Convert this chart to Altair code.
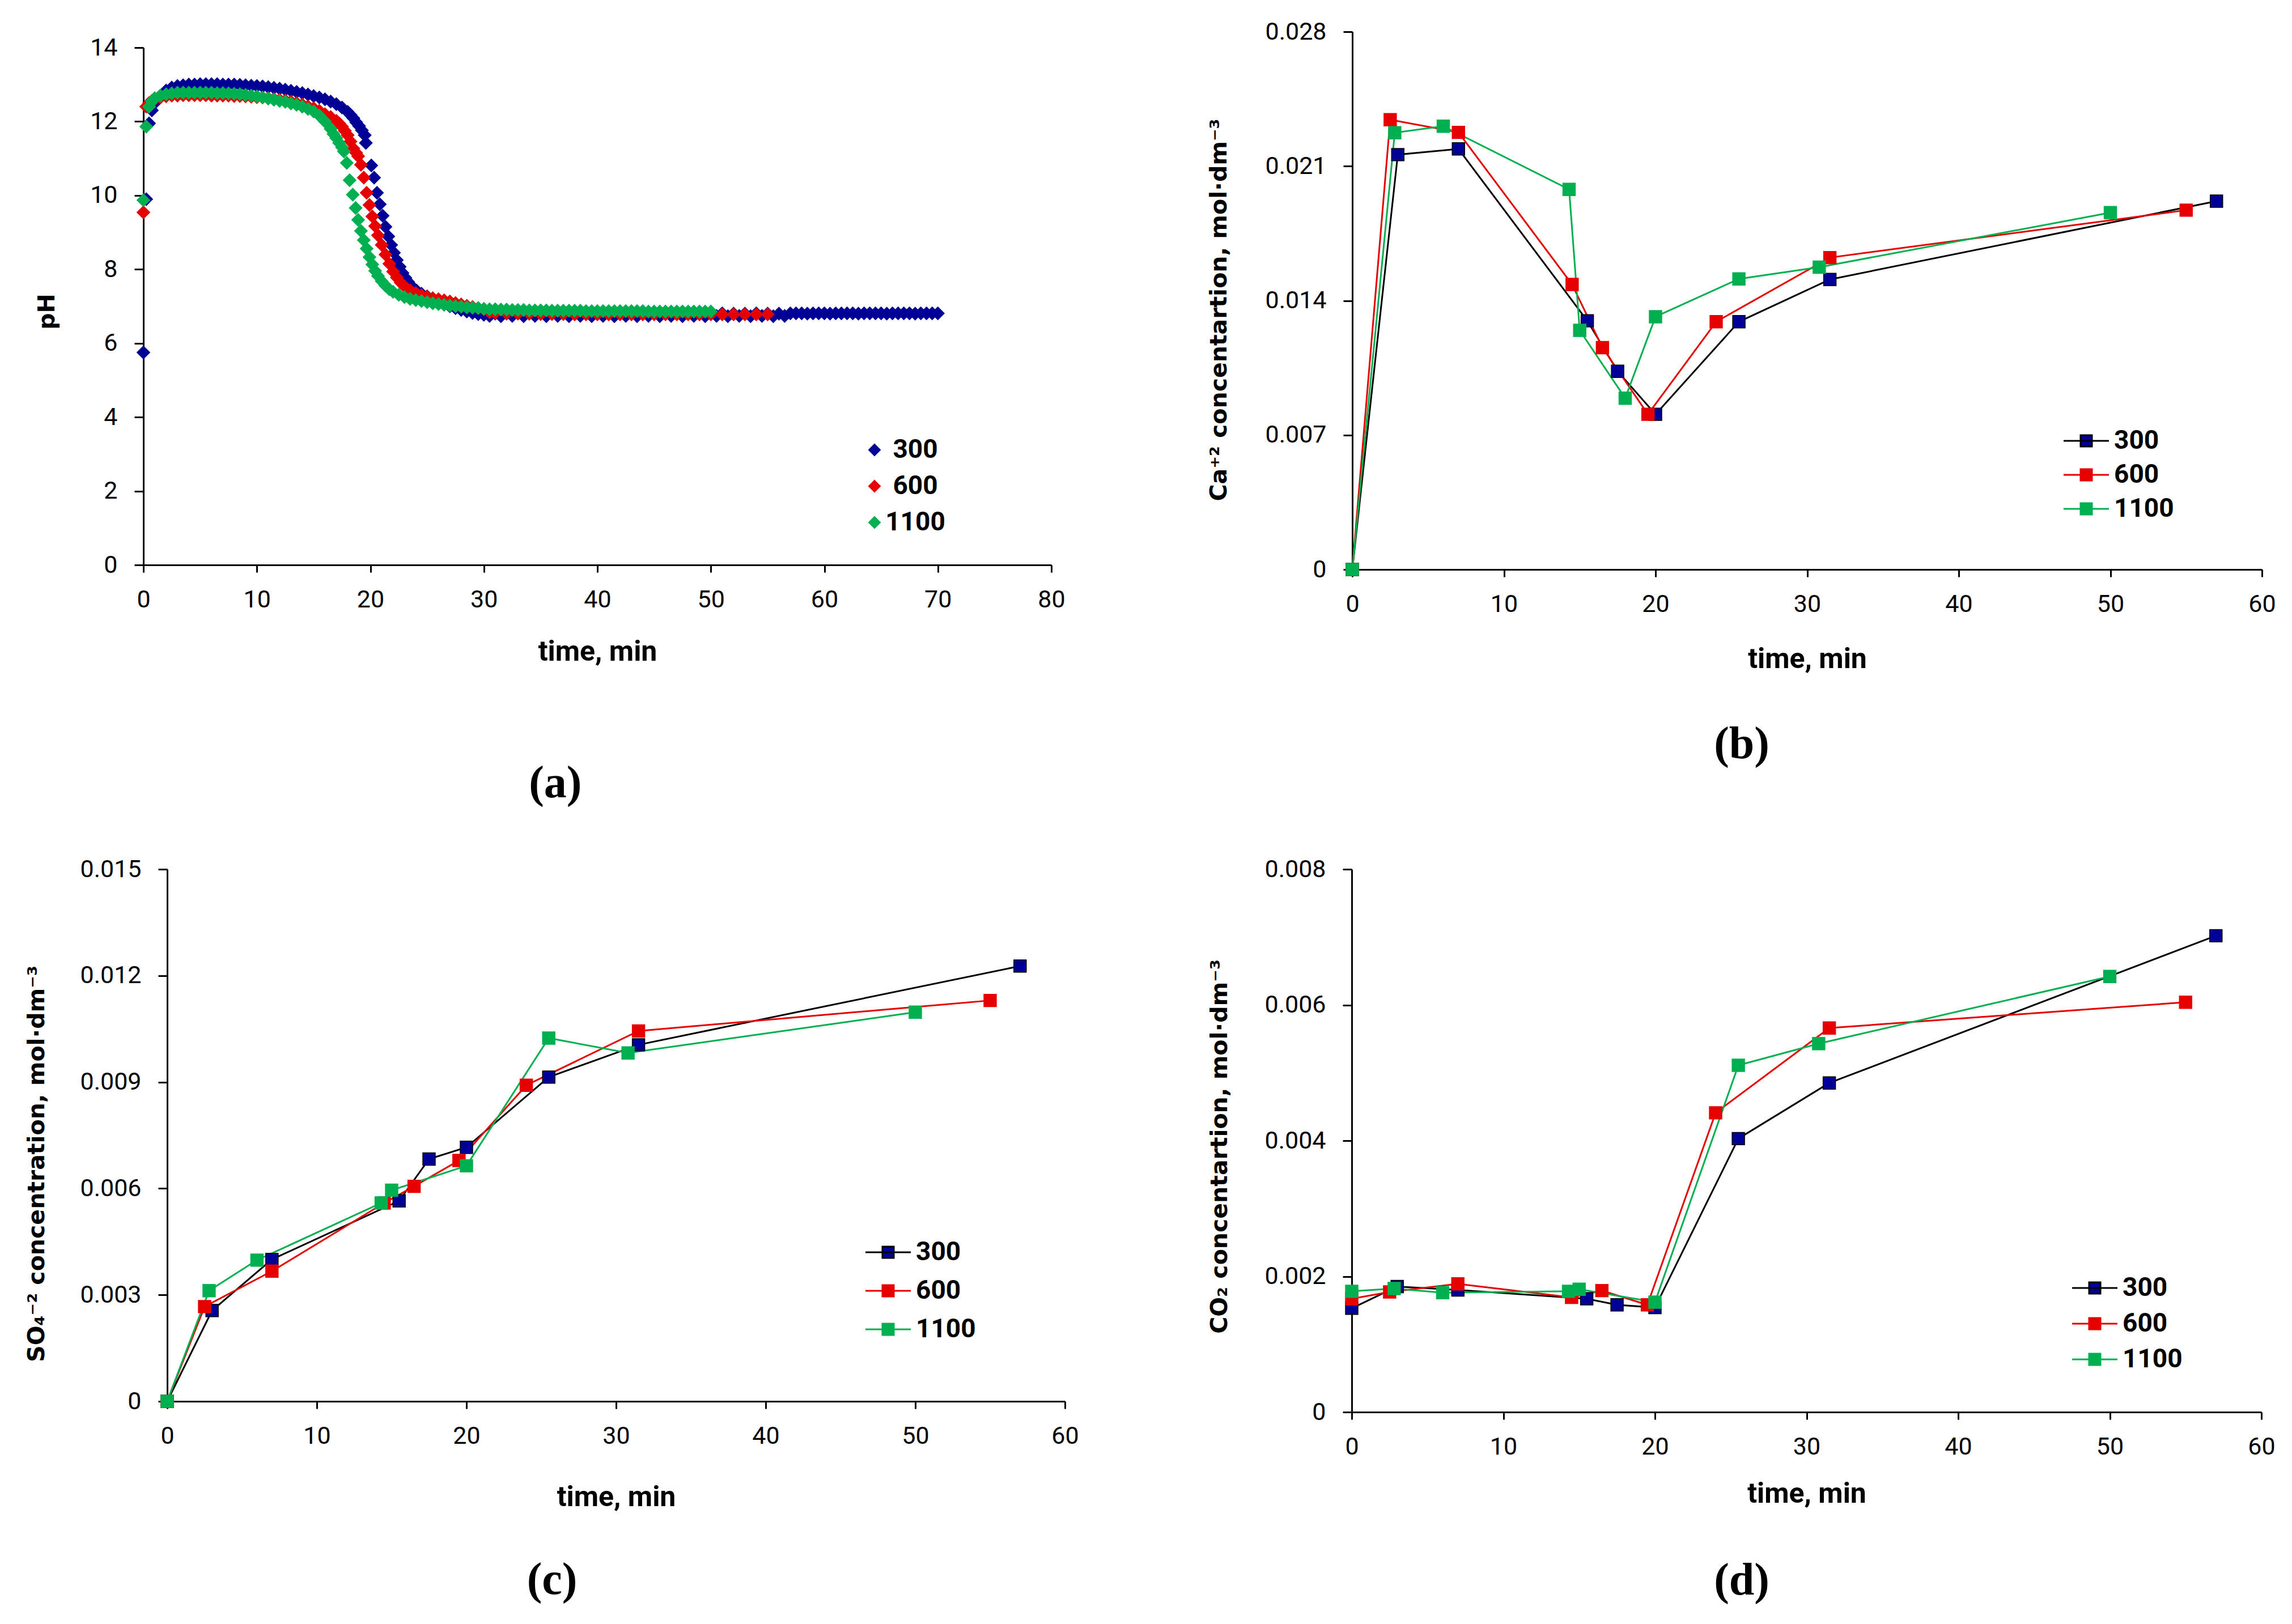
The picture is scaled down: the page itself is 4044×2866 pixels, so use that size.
import altair as alt
import pandas as pd

SERIES = ["300", "600", "1100"]
MARKER_COLORS = ["#000096", "#E60000", "#00B050"]
LINE_COLORS = ["#000000", "#E60000", "#00B050"]

# ---------------- panel (a): pH ----------------
ph300_t1 = [0, 0.25, 0.5, 0.75, 1, 1.5, 2, 2.5, 3, 3.5, 4, 4.5, 5, 5.5, 6, 6.5, 7, 7.5, 8, 8.5,
            9, 9.5, 10, 10.5, 11, 11.5, 12, 12.5, 13, 13.5, 14, 14.5, 15, 15.5, 16, 16.5, 17, 17.5, 18]
ph300_v1 = [5.75, 9.90, 11.95, 12.30, 12.50, 12.70, 12.84, 12.92, 12.96, 12.98, 13.00, 13.00, 13.01, 13.01,
            13.01, 13.01, 13.00, 13.00, 13.00, 12.99, 12.98, 12.97, 12.96, 12.95, 12.93, 12.91, 12.89, 12.86,
            12.83, 12.80, 12.77, 12.73, 12.69, 12.65, 12.60, 12.54, 12.47, 12.38, 12.26]
ph300_t2 = [18.25, 18.5, 18.75, 19, 19.25, 19.5, 19.6, 20.08, 20.33, 20.58, 20.83, 21.08, 21.33, 21.58,
            21.83, 22.08, 22.33, 22.58, 22.83, 23.08, 23.33, 23.58, 23.83, 24.08, 24.5, 25, 25.5, 26, 26.5,
            27, 27.5, 28, 28.5, 29, 29.5, 30]
ph300_v2 = [12.18, 12.09, 11.98, 11.88, 11.76, 11.63, 11.42, 10.81, 10.48, 10.07, 9.76, 9.45, 9.15, 8.89,
            8.66, 8.45, 8.25, 8.07, 7.90, 7.77, 7.66, 7.56, 7.48, 7.42, 7.34, 7.27, 7.21, 7.14, 7.07, 7.00,
            6.95, 6.90, 6.86, 6.82, 6.79, 6.77]
ph300_t3 = [30.5, 31, 31.5, 32, 32.5, 33, 33.5, 34, 34.5, 35, 35.5, 36, 36.5, 37, 37.5, 38, 38.5, 39, 39.5, 40,
            40.5, 41, 41.5, 42, 42.5, 43, 43.5, 44, 44.5, 45, 45.5, 46, 46.5, 47, 47.5, 48, 48.5, 49, 49.5, 50,
            50.5, 51, 51.5, 52, 52.5, 53, 53.5, 54, 54.5, 55, 55.5, 56, 56.5, 57, 57.5, 58, 58.5, 59, 59.5, 60,
            60.5, 61, 61.5, 62, 62.5, 63, 63.5, 64, 64.5, 65, 65.5, 66, 66.5, 67, 67.5, 68, 68.5, 69, 69.5, 70]
ph300_v3 = [6.74, 6.80, 6.73, 6.80, 6.74, 6.81, 6.73, 6.80, 6.74, 6.80,
            6.73, 6.81, 6.74, 6.80, 6.73, 6.80, 6.74, 6.81, 6.73, 6.80,
            6.74, 6.80, 6.73, 6.81, 6.74, 6.80, 6.73, 6.80, 6.74, 6.81,
            6.73, 6.80, 6.74, 6.80, 6.73, 6.81, 6.74, 6.80, 6.73, 6.80,
            6.74, 6.81, 6.73, 6.80, 6.74, 6.80, 6.73, 6.81, 6.74, 6.80,
            6.73, 6.80, 6.74, 6.81,
            6.81, 6.81, 6.80, 6.81, 6.81, 6.81, 6.80, 6.81, 6.81, 6.81, 6.81, 6.80, 6.81,
            6.81, 6.81, 6.81, 6.80, 6.81, 6.81, 6.81, 6.81, 6.80, 6.81, 6.81, 6.81, 6.81]

ph600_t1 = [0, 0.25, 0.5, 0.75, 1, 1.5, 2, 2.5, 3, 3.5, 4, 4.5, 5, 5.5, 6, 6.5, 7, 7.5, 8, 8.5,
            9, 9.5, 10, 10.5, 11, 11.5, 12, 12.5, 13, 13.5, 14, 14.5, 15, 15.5, 16, 16.5, 17]
ph600_v1 = [9.54, 12.40, 12.50, 12.56, 12.60, 12.65, 12.68, 12.70, 12.70, 12.71, 12.71, 12.71, 12.71, 12.71,
            12.70, 12.70, 12.70, 12.70, 12.69, 12.69, 12.68, 12.67, 12.66, 12.65, 12.63, 12.61, 12.59, 12.57,
            12.54, 12.50, 12.46, 12.41, 12.36, 12.29, 12.20, 12.12, 12.02]
ph600_t2 = [17.25, 17.5, 17.75, 18, 18.25, 18.5, 18.75, 18.92, 19.17, 19.42, 19.67, 19.92, 20.17, 20.42,
            20.67, 21.0, 21.33, 21.67, 22.0, 22.33, 22.67, 23.0, 23.5, 24, 24.5, 25, 25.5, 26, 26.5, 27,
            27.5, 28, 28.5, 29, 29.5, 30, 30.5]
ph600_v2 = [11.95, 11.86, 11.75, 11.63, 11.46, 11.27, 11.15, 11.06, 10.83, 10.48, 10.07, 9.74, 9.43, 9.17,
            8.92, 8.66, 8.40, 8.15, 7.94, 7.78, 7.64, 7.54, 7.43, 7.36, 7.30, 7.26, 7.22, 7.19, 7.16, 7.13,
            7.09, 7.05, 7.01, 6.98, 6.95, 6.92, 6.84]
ph600_t3 = [31, 32, 33, 34, 35, 36, 37, 38, 39, 40, 41, 42, 43, 44, 45, 46, 47, 48, 49, 50, 51, 52, 53, 54, 55]
ph600_v3 = [6.82, 6.81, 6.80, 6.80, 6.79, 6.79, 6.79, 6.78, 6.78, 6.78, 6.78, 6.78, 6.78, 6.78, 6.78,
            6.78, 6.78, 6.78, 6.78, 6.78, 6.78, 6.78, 6.78, 6.78, 6.78]

ph1100_t1 = [0, 0.25, 0.5, 0.75, 1, 1.5, 2, 2.5, 3, 3.5, 4, 4.5, 5, 5.5, 6, 6.5, 7, 7.5, 8, 8.5,
             9, 9.5, 10, 10.5, 11, 11.5, 12, 12.5, 13, 13.5, 14, 14.5, 15, 15.5, 16, 16.5]
ph1100_v1 = [9.87, 11.86, 12.40, 12.55, 12.63, 12.70, 12.74, 12.76, 12.78, 12.78, 12.78, 12.78, 12.78, 12.78,
             12.78, 12.77, 12.77, 12.76, 12.75, 12.74, 12.72, 12.70, 12.68, 12.65, 12.62, 12.59, 12.56, 12.53,
             12.49, 12.45, 12.40, 12.34, 12.27, 12.16, 12.00, 11.80]
ph1100_t2 = [16.75, 17, 17.25, 17.5, 17.67, 17.92, 18.17, 18.45, 18.7, 18.92, 19.17, 19.42, 19.67, 19.92,
             20.17, 20.42, 20.67, 21.0, 21.33, 21.67, 22.0, 22.5, 23, 23.5, 24, 24.5, 25, 25.5, 26, 26.5,
             27, 27.5, 28, 28.5, 29, 29.5, 30]
ph1100_v2 = [11.66, 11.55, 11.42, 11.30, 11.19, 10.88, 10.41, 10.02, 9.66, 9.34, 9.04, 8.79, 8.56, 8.33,
             8.13, 7.96, 7.82, 7.68, 7.56, 7.46, 7.39, 7.31, 7.25, 7.20, 7.17, 7.14, 7.11, 7.08, 7.06, 7.04,
             7.02, 7.00, 6.99, 6.97, 6.96, 6.95, 6.93]
ph1100_t3 = [30.5, 31, 31.5, 32, 32.5, 33, 33.5, 34, 34.5, 35, 35.5, 36, 36.5, 37, 37.5, 38, 38.5, 39, 39.5, 40,
             40.5, 41, 41.5, 42, 42.5, 43, 43.5, 44, 44.5, 45, 45.5, 46, 46.5, 47, 47.5, 48, 48.5, 49, 49.5, 50]
ph1100_v3 = [6.92, 6.92, 6.91, 6.91, 6.90, 6.90, 6.90, 6.89, 6.89, 6.89, 6.89, 6.88, 6.88, 6.88, 6.88,
             6.88, 6.88, 6.87, 6.87, 6.87, 6.87, 6.87, 6.87, 6.87, 6.87, 6.87, 6.87, 6.87, 6.86, 6.86,
             6.86, 6.86, 6.86, 6.86, 6.86, 6.86, 6.86, 6.86, 6.86, 6.86]

# ---------------- panel (b): Ca+2 ----------------
ca_t_300 = [0, 3, 7, 15.5, 17.5, 20, 25.5, 31.5, 57]
ca_v_300 = [0, 0.02160, 0.02190, 0.01295, 0.01032, 0.00808, 0.01290, 0.01510, 0.01918]
ca_t_600 = [0, 2.5, 7, 14.5, 16.5, 19.5, 24, 31.5, 55]
ca_v_600 = [0, 0.02342, 0.02276, 0.01484, 0.01155, 0.00808, 0.01290, 0.01624, 0.01871]
ca_t_1100 = [0, 2.8, 6, 14.3, 15, 18, 20, 25.5, 30.8, 50]
ca_v_1100 = [0, 0.02274, 0.02308, 0.01979, 0.01245, 0.00892, 0.01316, 0.01513, 0.01574, 0.01858]

# ---------------- panel (c): SO4-2 ----------------
so_t_300 = [0, 3, 7, 15.5, 17.5, 20, 25.5, 31.5, 57]
so_v_300 = [0, 0.00256, 0.00400, 0.00565, 0.00683, 0.00716, 0.00914, 0.01005, 0.01227]
so_t_600 = [0, 2.5, 7, 14.5, 16.5, 19.5, 24, 31.5, 55]
so_v_600 = [0, 0.00267, 0.00367, 0.00559, 0.00606, 0.00679, 0.00891, 0.01044, 0.01130]
so_t_1100 = [0, 2.8, 6, 14.3, 15, 20, 25.5, 30.8, 50]
so_v_1100 = [0, 0.00312, 0.00398, 0.00559, 0.00595, 0.00664, 0.01024, 0.00982, 0.01097]

# ---------------- panel (d): CO2 ----------------
co_t_300 = [0, 3, 7, 15.5, 17.5, 20, 25.5, 31.5, 57]
co_v_300 = [0.00153, 0.00185, 0.00180, 0.00167, 0.00158, 0.00154, 0.00403, 0.00485, 0.00702]
co_t_600 = [0, 2.5, 7, 14.5, 16.5, 19.5, 24, 31.5, 55]
co_v_600 = [0.00167, 0.00177, 0.00189, 0.00169, 0.00179, 0.00158, 0.00441, 0.00566, 0.00604]
co_t_1100 = [0, 2.8, 6, 14.3, 15, 20, 25.5, 30.8, 50]
co_v_1100 = [0.00178, 0.00182, 0.00176, 0.00178, 0.00181, 0.00162, 0.00511, 0.00543, 0.00642]

X_TICKS_A = [0, 10, 20, 30, 40, 50, 60, 70, 80]
X_TICKS = [0, 10, 20, 30, 40, 50, 60]
Y_TICKS_A = [0, 2, 4, 6, 8, 10, 12, 14]
Y_TICKS_B = [0, 0.007, 0.014, 0.021, 0.028]
Y_TICKS_C = [0, 0.003, 0.006, 0.009, 0.012, 0.015]
Y_TICKS_D = [0, 0.002, 0.004, 0.006, 0.008]


def make_df(parts):
    rows = []
    for s, ts, vs in parts:
        assert len(ts) == len(vs), (s, len(ts), len(vs))
        for t, v in zip(ts, vs):
            rows.append({"s": s, "t": t, "v": v})
    return pd.DataFrame(rows)


df_a = make_df([
    ("300", ph300_t1 + ph300_t2 + ph300_t3, ph300_v1 + ph300_v2 + ph300_v3),
    ("600", ph600_t1 + ph600_t2 + ph600_t3, ph600_v1 + ph600_v2 + ph600_v3),
    ("1100", ph1100_t1 + ph1100_t2 + ph1100_t3, ph1100_v1 + ph1100_v2 + ph1100_v3),
])
df_b = make_df([("300", ca_t_300, ca_v_300), ("600", ca_t_600, ca_v_600), ("1100", ca_t_1100, ca_v_1100)])
df_c = make_df([("300", so_t_300, so_v_300), ("600", so_t_600, so_v_600), ("1100", so_t_1100, so_v_1100)])
df_d = make_df([("300", co_t_300, co_v_300), ("600", co_t_600, co_v_600), ("1100", co_t_1100, co_v_1100)])

LABEL_EXPR = "datum.value == 0 ? '0' : format(datum.value, '.3f')"
LEG_LABEL = dict(labelFont="Roboto", labelFontSize=46, labelFontWeight="bold", labelColor="black")
CAPTION = dict(orient="bottom", anchor="middle", frame="bounds", font="Liberation Serif",
               fontSize=80, fontWeight="bold", color="black")
LINE_SYMBOL = "M-2,0L2,0M-0.5,-0.5L0.5,-0.5L0.5,0.5L-0.5,0.5Z"


def x_axis(values, title_pad):
    return alt.Axis(values=values, title="time, min", titlePadding=title_pad, labelPadding=27,
                    tickSize=13, labelFlush=False, labelOverlap=False)


# panel (a): its plot sits 42 px left of, and 28 px below, the shared row/column origin
A_SHIFT_X = 42
A_SHIFT_Y = 28
A_W, A_H = 1602, 913
pa = alt.Chart(df_a).mark_point(shape="diamond", filled=True, size=600, strokeWidth=0, opacity=1).encode(
    x=alt.X("t:Q", scale=alt.Scale(domain=[0, 80], nice=False, range=[-A_SHIFT_X, A_W - A_SHIFT_X]),
            axis=x_axis(X_TICKS_A, 45)),
    y=alt.Y("v:Q", scale=alt.Scale(domain=[0, 14], nice=False, range=[A_H + A_SHIFT_Y, A_SHIFT_Y]),
            axis=alt.Axis(values=Y_TICKS_A, title="pH", tickSize=16, labelPadding=30, titlePadding=54,
                          offset=A_SHIFT_X, titleY=A_SHIFT_Y + A_H / 2 + 9)),
    color=alt.Color("s:N", sort=SERIES, scale=alt.Scale(domain=SERIES, range=MARKER_COLORS),
                    legend=alt.Legend(orient="none", legendX=1225, legendY=715, title=None,
                                      symbolType="diamond", symbolSize=520, symbolStrokeWidth=0,
                                      symbolOpacity=1, labelAlign="center", labelOffset=49,
                                      rowPadding=18, padding=0, **LEG_LABEL)),
).properties(width=A_W - A_SHIFT_X, height=A_H + A_SHIFT_Y,
             title=alt.TitleParams("(a)", offset=169, **CAPTION))


def line_panel(df, ydom, yticks, ytitle, ytp, ty_shift, xtp, w, h, lx, ly, rowpad, caption, cap_off):
    x = alt.X("t:Q", scale=alt.Scale(domain=[0, 60], nice=False), axis=x_axis(X_TICKS, xtp))
    y = alt.Y("v:Q", scale=alt.Scale(domain=ydom, nice=False),
              axis=alt.Axis(values=yticks, title=ytitle, labelExpr=LABEL_EXPR, tickSize=16,
                            labelPadding=30, titlePadding=ytp, titleY=h / 2 + ty_shift))
    layers = []
    for s, c in zip(SERIES, LINE_COLORS):
        layers.append(alt.Chart(df).transform_filter(alt.datum.s == s)
                      .mark_line(color=c, strokeWidth=3).encode(x=x, y=y))
    leg = alt.Legend(orient="none", legendX=lx, legendY=ly, title=None, symbolType=LINE_SYMBOL,
                     symbolSize=1600, symbolStrokeWidth=3, symbolOpacity=1, labelOffset=26,
                     rowPadding=rowpad, padding=0, **LEG_LABEL)
    pts = alt.Chart(df).mark_point(shape="square", filled=True, size=480, strokeWidth=1.5, opacity=1).encode(
        x=x, y=y,
        fill=alt.Fill("s:N", sort=SERIES, scale=alt.Scale(domain=SERIES, range=MARKER_COLORS), legend=leg),
        stroke=alt.Stroke("s:N", sort=SERIES, scale=alt.Scale(domain=SERIES, range=LINE_COLORS), legend=leg),
    )
    return alt.layer(*layers, pts).properties(width=w, height=h,
                                               title=alt.TitleParams(caption, offset=cap_off, **CAPTION))


pb = line_panel(df_b, [0, 0.028], Y_TICKS_B, "Ca\u207a\u00b2 concentartion, mol\u00b7dm\u207b\u00b3", 59, 16, 50,
                1605, 949, 1272, 699, 14, "(b)", 87)
pc = line_panel(df_c, [0, 0.015], Y_TICKS_C, "SO\u2084\u207b\u00b2  concentration, mol\u00b7dm\u207b\u00b3", 54, 50, 61,
                1584, 939, 1249, 653, 22, "(c)", 83)
pd_ = line_panel(df_d, [0, 0.008], Y_TICKS_D, "CO\u2082  concentartion, mol\u00b7dm\u207b\u00b3", 57, 10, 36,
                 1605, 958, 1288, 716, 17, "(d)", 90)

IND = dict(color="independent", fill="independent", stroke="independent")

row1 = alt.hconcat(pa, pb, spacing=233).resolve_scale(**IND).resolve_legend(**IND)
row2 = alt.hconcat(pc, pd_, spacing=227).resolve_scale(**IND).resolve_legend(**IND)

chart = (
    alt.vconcat(row1, row2, spacing=90)
    .resolve_scale(**IND).resolve_legend(**IND)
    .properties(padding={"left": 36, "top": 27, "right": 5, "bottom": 5}, background="white")
    .configure_view(strokeWidth=0)
    .configure_axis(domainColor="black", domainWidth=3, tickColor="black", tickWidth=3,
                    labelFont="Roboto", labelFontSize=43, labelColor="black", titleColor="black", grid=False)
    .configure_axisX(titleFont="Roboto", titleFontSize=50, titleFontWeight="bold")
    .configure_axisY(titleFont="DejaVu Sans", titleFontSize=41, titleFontWeight="bold")
)

chart.save("out.html", embed_options={"renderer": "svg", "actions": False})
